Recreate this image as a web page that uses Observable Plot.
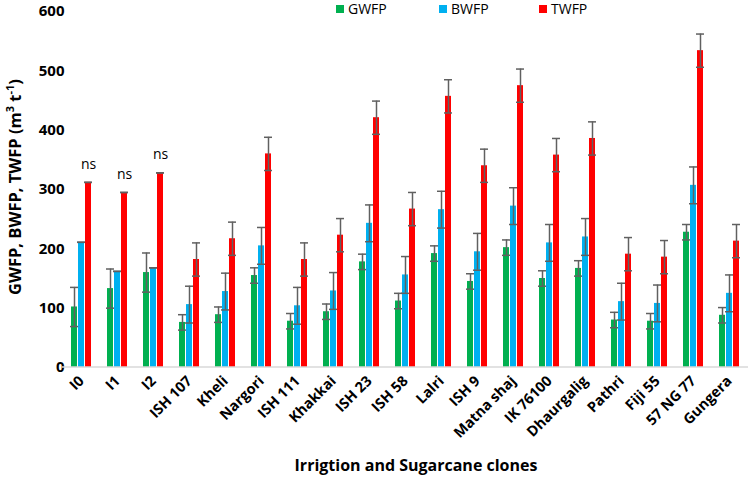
<!DOCTYPE html>
<html>
<head>
<meta charset="utf-8">
<script src="https://cdn.jsdelivr.net/npm/d3@7"></script>
<script src="https://cdn.jsdelivr.net/npm/@observablehq/plot@0.6"></script>
<style>
  html, body { margin: 0; padding: 0; background: #fff; }
  #chart { position: relative; width: 749px; height: 477px; }
  svg { font-family: "Open Sans", sans-serif; overflow: visible; }
  .yax text { font-size: 15px !important; font-weight: bold !important; fill: #000; }
  .fxax text { font-size: 14.5px !important; font-weight: bold !important; fill: #000; }
</style>
</head>
<body>
<div id="chart"></div>
<script>
const clones = ["I0","I1","I2","ISH 107","Kheli","Nargori","ISH 111","Khakkai","ISH 23","ISH 58","Lalri","ISH 9","Matna shaj","IK 76100","Dhaurgalig","Pathri","Fiji 55","57 NG 77","Gungera"];
const series = ["GWFP","BWFP","TWFP"];
const colors = ["#00B050","#00B0F0","#FF0000"];
const gwfp = [102,133,160,76,89,155,78,94,178,112,192,145,202,150,167,80,78,228,88];
const bwfp = [211,162,168,106,128,205,104,129,243,156,266,195,272,210,220,111,108,307,125];
const twfp = [312,295,328,182,217,360,182,223,421,267,457,340,475,358,386,191,186,534,213];
const gwfpErr = [33,33,33,13,13,13,13,13,13,13,13,13,13,13,13,13,13,13,13];
const bwfpErr = [0,0,0,31,31,31,31,31,31,31,31,31,31,31,31,31,31,31,31];
const twfpErr = [0,0,0,28,28,28,28,28,28,28,28,28,28,28,28,28,28,28,28];
const twfpNote = ["ns","ns","ns","","","","","","","","","","","","","","","",""];
const yTicks = [0,100,200,300,400,500,600];
const yTitle = "GWFP, BWFP, TWFP";
const xTitle = "Irrigtion and Sugarcane clones";

const values = [gwfp, bwfp, twfp];
const errs = [gwfpErr, bwfpErr, twfpErr];
const rows = [];
clones.forEach((c, i) => series.forEach((s, j) => rows.push({
  clone: c, series: s, value: values[j][i], err: errs[j][i],
  lo: values[j][i] - errs[j][i], hi: values[j][i] + errs[j][i],
  note: j === 2 ? twfpNote[i] : ""
})));

const W = 749, H = 477, mL = 62, mR = 1, mT = 11, mB = 110;
const plot = Plot.plot({
  width: W, height: H,
  marginLeft: mL, marginRight: mR, marginTop: mT, marginBottom: mB,
  style: {fontFamily: "Open Sans, sans-serif", fontSize: "13px", color: "#000", background: "#fff", overflow: "visible"},
  fx: {domain: clones, paddingInner: 0.32, paddingOuter: 0.16, label: null},
  x: {domain: series, padding: 0.1, axis: null},
  y: {domain: [0, 600], label: null},
  color: {domain: series, range: colors},
  marks: [
    Plot.axisY({ticks: yTicks, tickSize: 0, tickPadding: 5, label: null, className: "yax"}),
    Plot.axisFx({anchor: "bottom", tickRotate: -45, tickSize: 0, tickPadding: 11, label: null, className: "fxax"}),
    Plot.barY(rows, {fx: "clone", x: "series", y: "value", fill: "series"}),
    Plot.ruleX(rows, {fx: "clone", x: "series", y1: "lo", y2: "hi", stroke: "#606060", strokeWidth: 1.5}),
    Plot.tickY(rows, {fx: "clone", x: "series", y: "hi", stroke: "#606060", strokeWidth: 1.5, insetLeft: -1, insetRight: -1}),
    Plot.tickY(rows, {fx: "clone", x: "series", y: "lo", stroke: "#606060", strokeWidth: 1.5, insetLeft: -1, insetRight: -1}),
    Plot.text(rows.filter(d => d.note), {fx: "clone", x: "series", y: "hi", text: "note", dy: -18, fontSize: 14, fill: "#000"})
  ]
});
document.getElementById("chart").appendChild(plot);

const svg = d3.select(plot);
const y = plot.scale("y");
const y0 = y.apply(0);
// baseline
svg.append("line").attr("x1", mL).attr("x2", W - mR).attr("y1", y0).attr("y2", y0)
  .attr("stroke", "#d9d9d9").attr("stroke-width", 1.5);
// y title
const yt = svg.append("text")
  .attr("transform", `translate(21,187) rotate(-90)`)
  .attr("text-anchor", "middle").attr("font-weight", "bold").attr("font-size", 16.5).attr("fill", "#000");
yt.append("tspan").text(yTitle + " (m");
yt.append("tspan").text("3").attr("font-size", 11).attr("dy", -7);
yt.append("tspan").text(" t").attr("font-size", 16.5).attr("dy", 7);
yt.append("tspan").text("-1").attr("font-size", 11).attr("dy", -7);
yt.append("tspan").text(")").attr("font-size", 16.5).attr("dy", 7);
// x title
svg.append("text").attr("x", 416).attr("y", 471).attr("text-anchor", "middle")
  .attr("font-weight", "bold").attr("font-size", 16).attr("fill", "#000").text(xTitle);
// legend
const legX = [336, 439, 539];
series.forEach((s, j) => {
  svg.append("rect").attr("x", legX[j]).attr("y", 5).attr("width", 8).attr("height", 8).attr("fill", colors[j]);
  svg.append("text").attr("x", legX[j] + 12).attr("y", 14).attr("text-anchor", "start")
    .attr("font-size", 14).attr("fill", "#000").text(s);
});
</script>
</body>
</html>
